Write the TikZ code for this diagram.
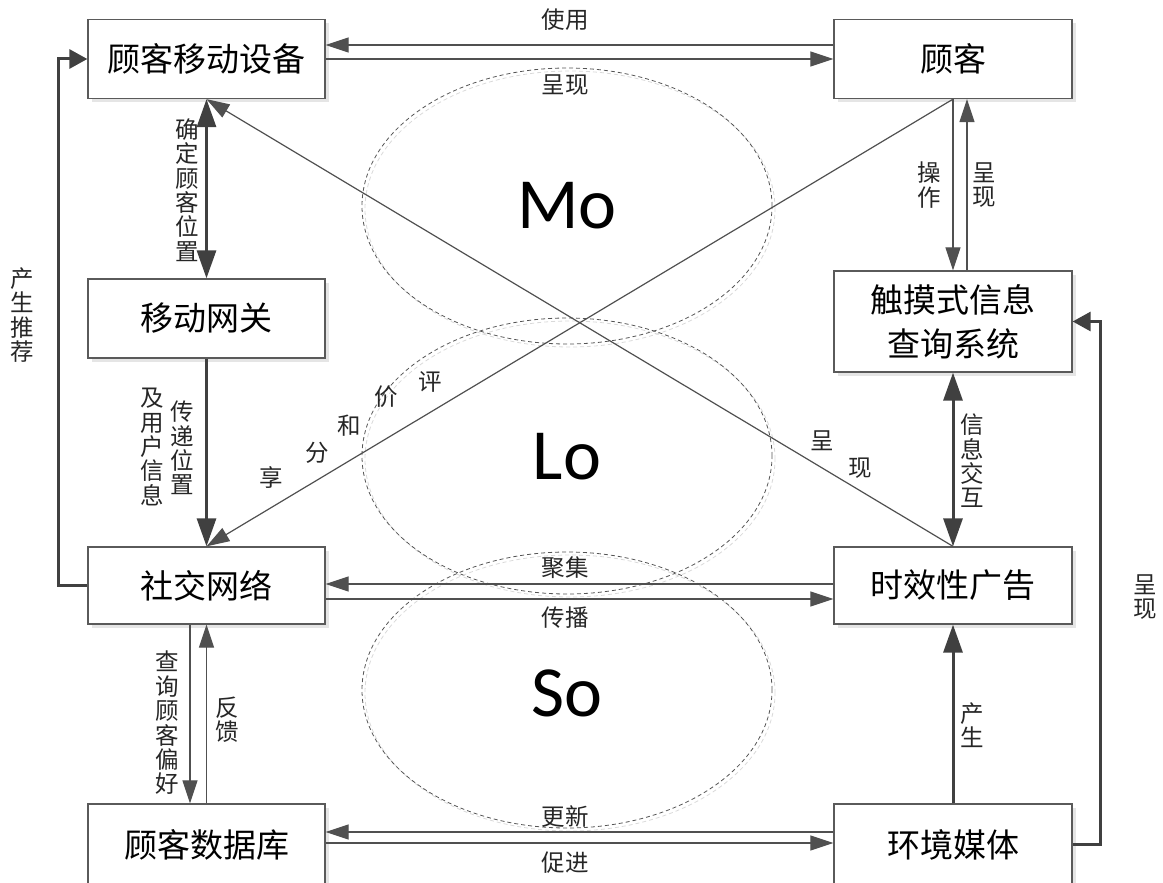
\documentclass[tikz,border=0pt]{standalone}
\usepackage{fontspec}
\newfontfamily\cjk{Noto Sans CJK SC}
\newfontfamily\latf{Carlito}
\usetikzlibrary{arrows.meta,shadows,calc}
\definecolor{dk}{HTML}{404040}
\definecolor{bx}{HTML}{5A5A5A}
\definecolor{ln}{HTML}{505050}
\definecolor{el}{HTML}{555555}
\begin{document}
\begin{tikzpicture}[x=1pt,y=-1pt,
  box/.style={draw=bx,line width=1.3pt,fill=white,minimum width=237pt,minimum height=79pt,inner sep=0pt,
    font=\cjk\fontsize{33}{44}\selectfont,align=center,
    drop shadow={shadow xshift=4pt,shadow yshift=-4pt,fill=black!10,opacity=1}},
  heavyarr/.style={line width=3pt,draw=dk,-{Triangle[length=28pt,width=19pt]}},
  elbowarr/.style={line width=3pt,draw=dk,-{Triangle[length=18pt,width=19pt]}},
  heavydbl/.style={line width=3pt,draw=dk,{Triangle[length=28pt,width=19pt]}-{Triangle[length=28pt,width=19pt]}},
  thinarr/.style={line width=1.2pt,draw=ln,-{Triangle[length=23pt,width=15pt]}},
  ell/.style={draw=el,line width=0.8pt,dash pattern=on 4pt off 3pt},
  ellsh/.style={draw=black!15,line width=0.8pt,dash pattern=on 4pt off 3pt},
  lbl/.style={font=\cjk\fontsize{23.5}{24.4}\selectfont,inner sep=0pt,align=center,text=black!85},
  big/.style={font=\latf\fontsize{72}{72}\selectfont,inner sep=0pt}]
\useasboundingbox (0,0) rectangle (1163,883);
\clip (0,0) rectangle (1163,883);

% ellipses
\foreach \cy in {206,456,690}{
  \draw[ellsh] (570,\cy+3) ellipse [x radius=205pt,y radius=138pt];
  \draw[ell] (567,\cy) ellipse [x radius=205pt,y radius=138pt];
}
\node[big] (mo) at (567,206) {Mo};
\node[big] (lo) at (567,457) {Lo};
\node[big] (so) at (567,693) {So};

% boxes
\node[box] (A) at (206.5,59) {顾客移动设备};
\node[box,minimum width=238pt] (B) at (953,59) {顾客};
\node[box] (C) at (206.5,318.5) {移动网关};
\node[box,minimum width=238pt,minimum height=101pt] (D) at (953,321.5) {触摸式信息\\查询系统};
\node[box,minimum height=77pt] (E) at (206.5,585.5) {社交网络};
\node[box,minimum width=238pt,minimum height=77pt] (F) at (953,585.5) {时效性广告};
\node[box,minimum height=81pt] (G) at (206.5,844.5) {顾客数据库};
\node[box,minimum width=238pt,minimum height=81pt] (H) at (953,844.5) {环境媒体};

% horizontal connectors
\draw[thinarr] ([yshift=14pt]B.west) -- ([yshift=14pt]A.east);
\draw[thinarr] (A.east) -- (B.west);
\draw[thinarr] ([yshift=1.5pt]F.west) -- ([yshift=1.5pt]E.east);
\draw[thinarr] ([yshift=-13.5pt]E.east) -- ([yshift=-13.5pt]F.west);
\draw[thinarr] ([yshift=12.5pt]H.west) -- ([yshift=12.5pt]G.east);
\draw[thinarr] ([yshift=1.5pt]G.east) -- ([yshift=1.5pt]H.west);

% vertical connectors
\draw[heavydbl] (A.south) -- (C.north);
\draw[heavyarr] (C.south) -- (E.north);
\draw[thinarr] (B.south) -- (D.north);
\draw[thinarr] ([xshift=14pt]D.north) -- ([xshift=14pt]B.south);
\draw[heavydbl] (D.south) -- (F.north);
\draw[heavyarr] (H.north) -- (F.south);
\draw[thinarr] ([xshift=-16.5pt]E.south) -- ([xshift=-16.5pt]G.north);
\draw[thinarr] (G.north) -- (E.south);

% diagonals
\draw[thinarr] (B.south) -- (E.north);
\draw[thinarr] (F.north) -- (A.south);

% elbows
\draw[elbowarr] (E.west) -- ++(-29,0) |- (A.west);
\draw[elbowarr] (H.east) -- ++(28,0) |- (D.east);

% labels
\node[lbl] (l1) at (565,20) {使用};
\node[lbl] (l2) at (565,85) {呈现};
\node[lbl] (l3) at (187,190) {确\\定\\顾\\客\\位\\置};
\node[lbl] (l4) at (22,315) {产\\生\\推\\荐};
\node[lbl] (l5) at (929,185) {操\\作};
\node[lbl] (l6) at (984,185) {呈\\现};
\node[lbl] (l7) at (182,448) {传\\递\\位\\置};
\node[lbl] (l8) at (152,447) {及\\用\\户\\信\\息};
\node[lbl] (l9) at (972,461) {信\\息\\交\\互};
\node[lbl] (l10) at (565,568) {聚集};
\node[lbl] (l11) at (565,618) {传播};
\node[lbl] (l12) at (167,723) {查\\询\\顾\\客\\偏\\好};
\node[lbl] (l13) at (227,720) {反\\馈};
\node[lbl] (l14) at (972,725) {产\\生};
\node[lbl] (l15) at (1145,597) {呈\\现};
\node[lbl] (l16) at (565,817) {更新};
\node[lbl] (l17) at (565,863) {促进};
\node[lbl] (d1) at (430,382) {评};
\node[lbl] (d2) at (386,397) {价};
\node[lbl] (d3) at (349,426) {和};
\node[lbl] (d4) at (317,453) {分};
\node[lbl] (d5) at (271,478) {享};
\node[lbl] (d6) at (822,441) {呈};
\node[lbl] (d7) at (860,468) {现};
\end{tikzpicture}
\end{document}
